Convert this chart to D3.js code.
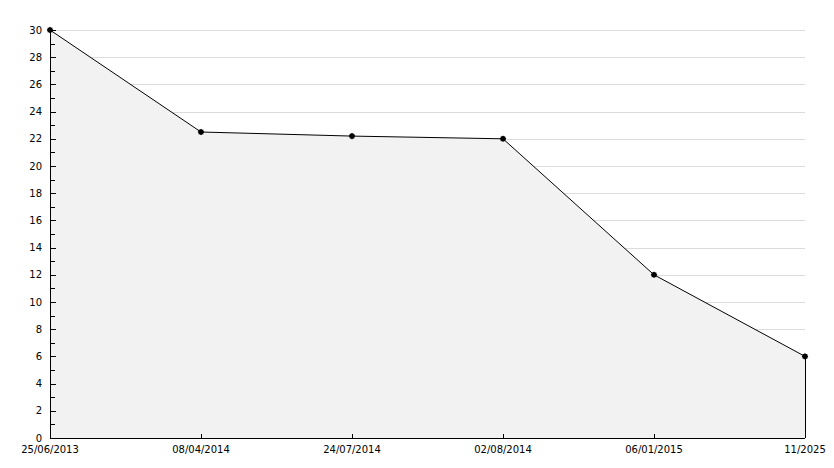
<!DOCTYPE html>
<html>
<head>
<meta charset="utf-8">
<script src="https://cdn.jsdelivr.net/npm/d3@7"></script>
<style>
  body { margin: 0; background: #fff; }
  svg text { font-family: "DejaVu Sans", sans-serif; font-size: 10px; fill: #000; }
</style>
</head>
<body>
<svg id="chart" width="834" height="468"></svg>
<script>
// data
var dates = ["25/06/2013", "08/04/2014", "24/07/2014", "02/08/2014", "06/01/2015", "11/2025"];
var values = [30, 22.5, 22.2, 22, 12, 6];
var yTicks = d3.range(0, 31, 2);

var margin = {top: 30, right: 29, bottom: 30, left: 50},
    width = 834 - margin.left - margin.right,
    height = 468 - margin.top - margin.bottom;

var x = d3.scalePoint().domain(dates).range([0, width]);
var y = d3.scaleLinear().domain([0, 30]).range([height, 0]);

var data = dates.map(function(d, i) { return {date: d, value: values[i]}; });

var svg = d3.select("#chart")
  .append("g")
    .attr("transform", "translate(" + margin.left + "," + margin.top + ")");

// grid lines
svg.append("g")
  .selectAll("line")
  .data(yTicks.filter(function(d) { return d > 0; }))
  .enter().append("line")
    .attr("x1", 0)
    .attr("x2", width)
    .attr("y1", function(d) { return Math.round(y(d)) + 0.5; })
    .attr("y2", function(d) { return Math.round(y(d)) + 0.5; })
    .style("stroke", "#dcdcdc")
    .style("shape-rendering", "crispEdges");

// area under the line
var area = d3.area()
    .x(function(d) { return x(d.date); })
    .y0(y(0))
    .y1(function(d) { return y(d.value); });

svg.append("path")
    .datum(data)
    .attr("d", area)
    .style("fill", "#f2f2f2")
    .style("stroke", "none");

var line = d3.line()
    .x(function(d) { return x(d.date); })
    .y(function(d) { return y(d.value); });

svg.append("path")
    .datum(data)
    .attr("d", line)
    .style("fill", "none")
    .style("stroke", "#000")
    .style("stroke-width", 1);

// right edge of the area
svg.append("line")
    .attr("x1", x(dates[dates.length - 1]) + 0.5)
    .attr("x2", x(dates[dates.length - 1]) + 0.5)
    .attr("y1", y(values[values.length - 1]))
    .attr("y2", y(0))
    .style("stroke", "#000")
    .style("shape-rendering", "crispEdges");

// y axis (ticks inward, minor ticks at odd values)
var yAxis = svg.append("g");
yAxis.append("line")
    .attr("x1", 0.5).attr("x2", 0.5)
    .attr("y1", y(30)).attr("y2", y(0))
    .style("stroke", "#000").style("shape-rendering", "crispEdges");
yAxis.selectAll(".tick")
  .data(d3.range(0, 31, 1))
  .enter().append("line")
    .attr("x1", 0)
    .attr("x2", function(d) { return d % 2 === 0 ? 6 : 5; })
    .attr("y1", function(d) { return Math.round(y(d)) + 0.5; })
    .attr("y2", function(d) { return Math.round(y(d)) + 0.5; })
    .style("stroke", "#000").style("shape-rendering", "crispEdges");
yAxis.selectAll("text")
  .data(yTicks)
  .enter().append("text")
    .attr("x", -8)
    .attr("y", function(d) { return y(d); })
    .attr("dy", "0.35em")
    .attr("text-anchor", "end")
    .text(function(d) { return d; });

// x axis
var xAxis = svg.append("g").attr("transform", "translate(0," + height + ")");
xAxis.append("line")
    .attr("x1", 0).attr("x2", width)
    .attr("y1", 0.5).attr("y2", 0.5)
    .style("stroke", "#000").style("shape-rendering", "crispEdges");
xAxis.selectAll(".tick")
  .data(dates)
  .enter().append("line")
    .attr("x1", function(d) { return Math.round(x(d)) + 0.5; })
    .attr("x2", function(d) { return Math.round(x(d)) + 0.5; })
    .attr("y1", 0).attr("y2", -4)
    .style("stroke", "#000").style("shape-rendering", "crispEdges");
xAxis.selectAll("text")
  .data(dates)
  .enter().append("text")
    .attr("x", function(d) { return x(d); })
    .attr("y", 15)
    .attr("text-anchor", "middle")
    .text(function(d) { return d; });

// point markers
svg.selectAll(".dot")
  .data(data)
  .enter().append("path")
    .attr("d", d3.symbol().type(d3.symbolSquare).size(22))
    .attr("transform", function(d) { return "translate(" + x(d.date) + "," + y(d.value) + ") rotate(0)"; })
    .style("fill", "#000");
svg.selectAll(".dot2")
  .data(data)
  .enter().append("path")
    .attr("d", d3.symbol().type(d3.symbolSquare).size(22))
    .attr("transform", function(d) { return "translate(" + x(d.date) + "," + y(d.value) + ") rotate(45)"; })
    .style("fill", "#000");
</script>
</body>
</html>
